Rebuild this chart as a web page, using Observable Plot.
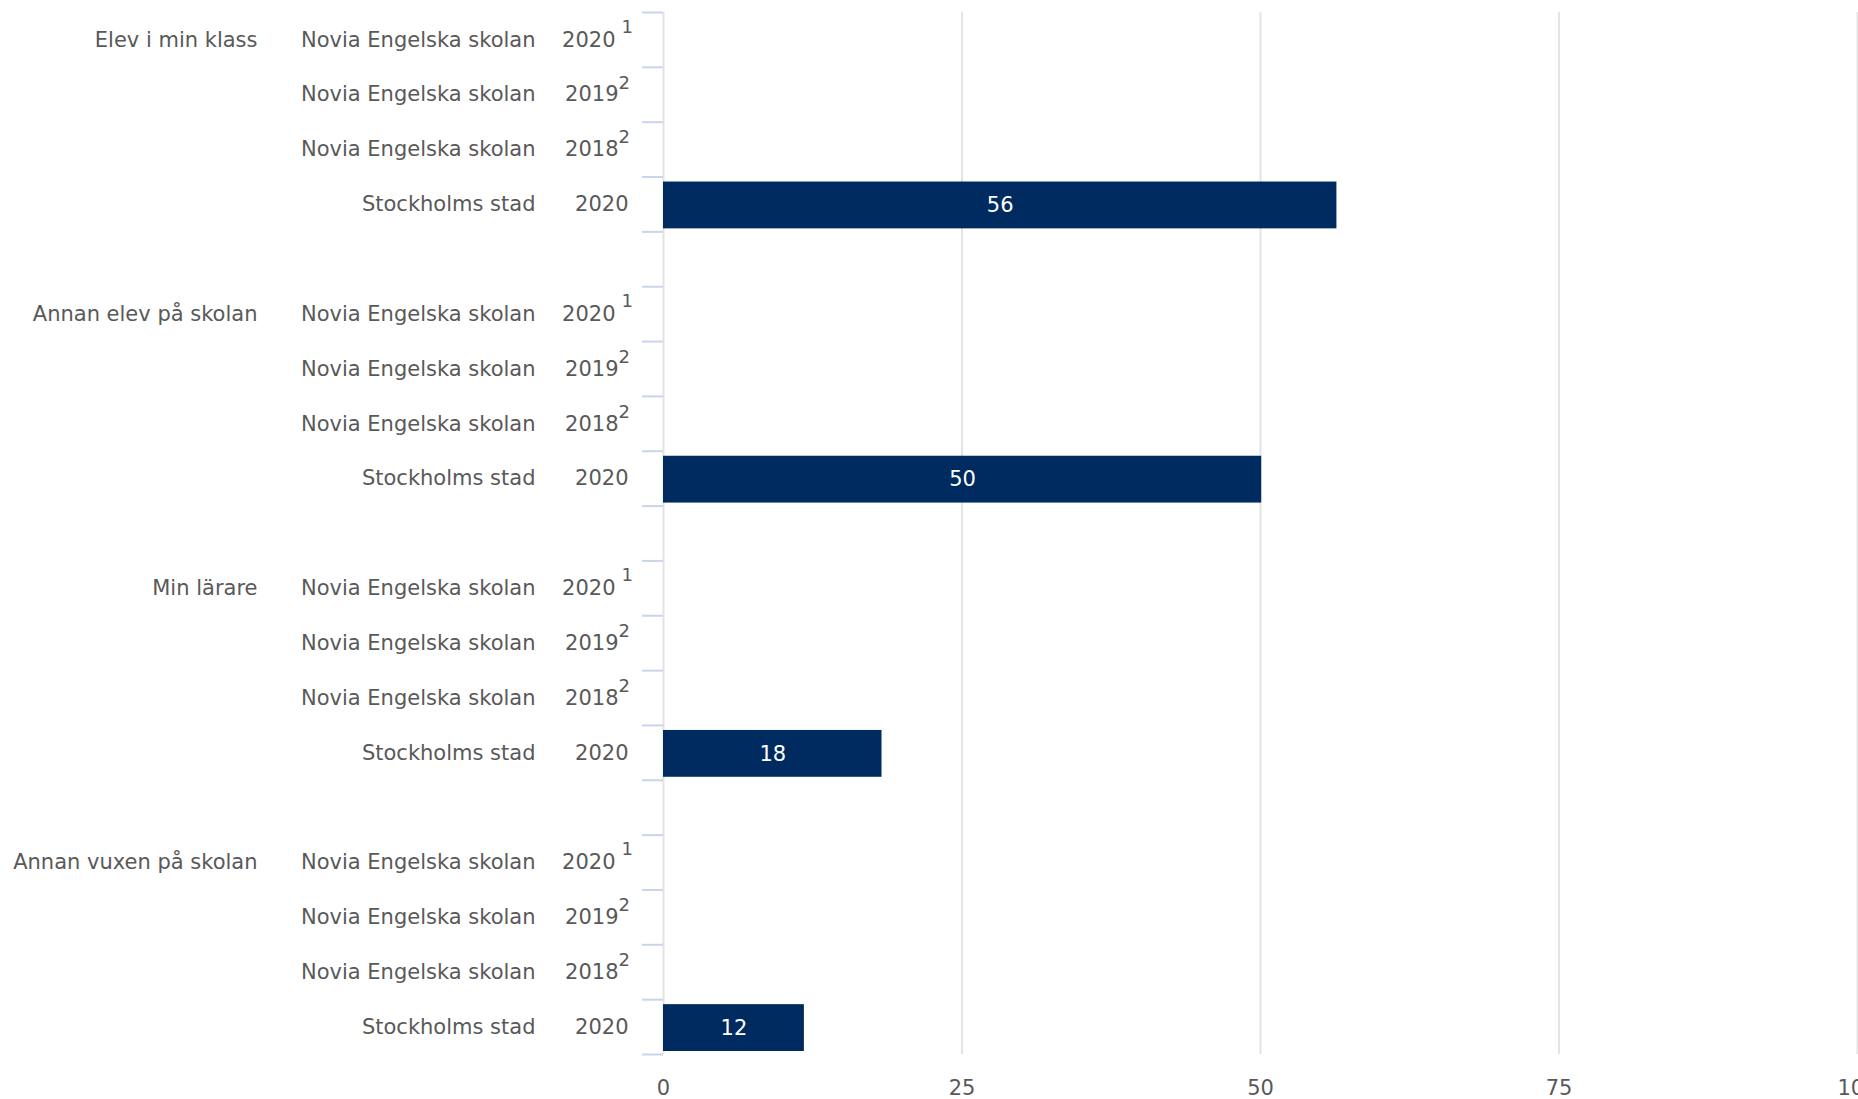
<!DOCTYPE html>
<html>
<head>
<meta charset="utf-8">
<script src="https://cdn.jsdelivr.net/npm/d3@7"></script>
<script src="https://cdn.jsdelivr.net/npm/@observablehq/plot@0.6"></script>
<style>
  html, body { margin: 0; padding: 0; background: #fff; }
  #chart { width: 1858px; height: 1099px; }
</style>
</head>
<body>
<div id="chart"></div>
<script>
// ---- data ----
const groups = ["Elev i min klass", "Annan elev på skolan", "Min lärare", "Annan vuxen på skolan"];
const units = ["Novia Engelska skolan", "Novia Engelska skolan", "Novia Engelska skolan", "Stockholms stad"];
const years = ["2020", "2019", "2018", "2020"];
const notes = ["1", "2", "2", ""];
const noviaValues2020 = [null, null, null, null];
const noviaValues2019 = [null, null, null, null];
const noviaValues2018 = [null, null, null, null];
const stockholmValues = [56.4, 50.1, 18.3, 11.8];
const xTicks = [0, 25, 50, 75, 100];

// ---- table ----
const seriesValues = [noviaValues2020, noviaValues2019, noviaValues2018, stockholmValues];
const slotsPerGroup = units.length + 1;
const rows = [];
groups.forEach((g, gi) => {
  units.forEach((u, ri) => {
    rows.push({group: g, unit: u, year: years[ri], note: notes[ri], first: ri === 0,
               value: seriesValues[ri][gi], slot: gi * slotsPerGroup + ri});
  });
});
const nSlots = groups.length * slotsPerGroup - 1;
const boundaries = d3.range(0, nSlots + 1);
const bars = rows.filter(d => d.value != null);
const fmt = d3.format(".0f");

const textColor = "#595959";
const FS = 21;
const W = 1858, H = 1099;

const chart = Plot.plot({
  width: W,
  height: H,
  marginLeft: 663,
  marginRight: 1,
  marginTop: 12,
  marginBottom: 45,
  style: {fontFamily: "DejaVu Sans", fontSize: FS + "px", color: textColor, background: "#fff", overflow: "visible"},
  x: {domain: [0, 100], label: null},
  y: {domain: [0, nSlots], reverse: true, label: null},
  marks: [
    Plot.ruleX(xTicks, {stroke: "#e3e3e3", strokeWidth: 2}),
    Plot.axisY({ticks: boundaries, tickSize: 21, tickFormat: () => "", label: null, stroke: "#c9d5ea", strokeWidth: 2, strokeOpacity: 1}),
    Plot.rectX(bars, {x1: 0, x2: "value", y1: "slot", y2: d => d.slot + 1, insetTop: 5, insetBottom: 3, fill: "#002b60"}),
    Plot.text(bars, {x: d => d.value / 2, y: d => d.slot + 0.5, text: d => fmt(d.value), fill: "white", fontSize: FS, dy: 1}),
    // group labels
    Plot.text(rows.filter(d => d.first), {frameAnchor: "left", y: d => d.slot + 0.5, text: "group", textAnchor: "end", dx: -406, dy: 0, fontSize: FS, fill: textColor}),
    // unit labels
    Plot.text(rows, {frameAnchor: "left", y: d => d.slot + 0.5, text: "unit", textAnchor: "end", dx: -128, dy: 0, fontSize: FS, fill: textColor}),
    // year labels, plain
    Plot.text(rows.filter(d => d.note === ""), {frameAnchor: "left", y: d => d.slot + 0.5, text: "year", textAnchor: "end", dx: -35, dy: 0, fontSize: FS, fill: textColor}),
    // year labels with note "2"
    Plot.text(rows.filter(d => d.note === "2"), {frameAnchor: "left", y: d => d.slot + 0.5, text: "year", textAnchor: "end", dx: -45, dy: 0, fontSize: FS, fill: textColor}),
    Plot.text(rows.filter(d => d.note === "2"), {frameAnchor: "left", y: d => d.slot + 0.5, text: "note", textAnchor: "start", dx: -45, dy: -12, fontSize: 18, fill: textColor}),
    // year labels with note "1"
    Plot.text(rows.filter(d => d.note === "1"), {frameAnchor: "left", y: d => d.slot + 0.5, text: "year", textAnchor: "end", dx: -48, dy: 0, fontSize: FS, fill: textColor}),
    Plot.text(rows.filter(d => d.note === "1"), {frameAnchor: "left", y: d => d.slot + 0.5, text: "note", textAnchor: "start", dx: -42, dy: -13, fontSize: 18, fill: textColor}),
    Plot.axisX({ticks: xTicks, tickSize: 0, tickPadding: 26, label: null, fontSize: FS, fill: textColor})
  ]
});
document.getElementById("chart").appendChild(chart);
</script>
</body>
</html>
